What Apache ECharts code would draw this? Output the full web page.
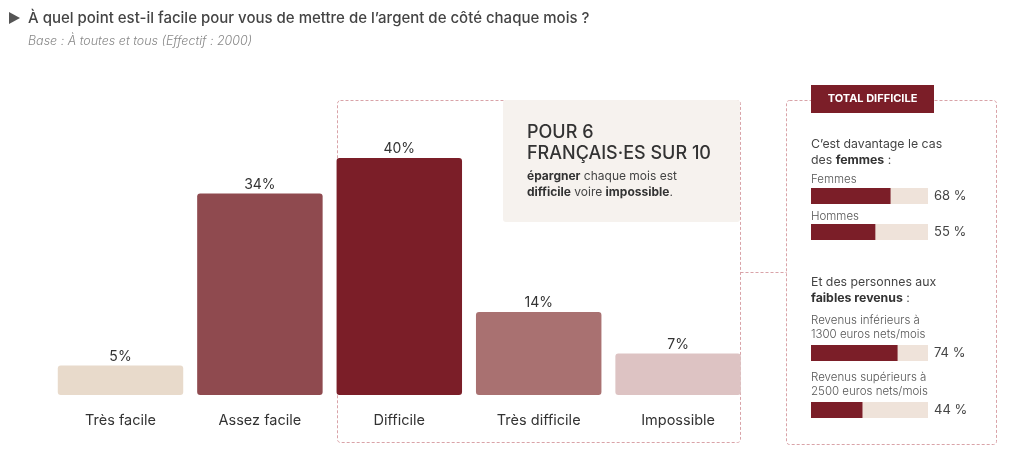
<!DOCTYPE html>
<html>
<head>
<meta charset="utf-8">
<script src="https://cdn.jsdelivr.net/npm/echarts@6/dist/echarts.min.js"></script>
<style>html,body{margin:0;padding:0;background:#fff;}#c{width:1024px;height:471px;}</style>
</head>
<body>
<div id="c"></div>
<script>
var categories = ['Très facile', 'Assez facile', 'Difficile', 'Très difficile', 'Impossible'];
var values = [5, 34, 40, 14, 7];
var barColors = ['#e8dacb', '#8f4a4f', '#7b1e28', '#a97171', '#ddc3c3'];

var groupLabels = ['Femmes', 'Hommes', 'Revenus inférieurs à\n1300 euros nets/mois', 'Revenus supérieurs à\n2500 euros nets/mois'];
var groupValues = [68, 55, 74, 44];

var FONT = 'Inter, "Noto Sans", sans-serif';
var chart = echarts.init(document.getElementById('c'), null, {renderer: 'canvas'});

// mini bar layout (positions only)
var miniTops = [188, 224, 345, 402];
var miniLabelY = [180, 217, 321, 378];
var miniLeft = 811, miniWidth = 117, miniH = 16;

var grids = [{left: 50.8, width: 697, top: 158, height: 237}];
var xAxes = [{type: 'category', gridIndex: 0, data: categories,
  axisLine: {show: false}, axisTick: {show: false},
  axisLabel: {color: '#333', fontSize: 14.5, fontFamily: FONT, margin: 18}}];
var yAxes = [{type: 'value', gridIndex: 0, min: 0, max: 40, show: false, splitLine: {show: false}}];
var series = [{
  type: 'bar', xAxisIndex: 0, yAxisIndex: 0, barCategoryGap: '10%',
  data: values.map(function (v, i) { return {value: v, itemStyle: {color: barColors[i]}}; }),
  itemStyle: {borderRadius: 3},
  label: {show: true, position: 'top', distance: 2, formatter: '{c}%', color: '#333', fontSize: 14, fontFamily: FONT}
}];

groupValues.forEach(function (v, i) {
  var gi = i + 1;
  grids.push({left: miniLeft, width: miniWidth, top: miniTops[i], height: miniH});
  xAxes.push({type: 'value', gridIndex: gi, min: 0, max: 100, show: false});
  yAxes.push({type: 'category', gridIndex: gi, data: [groupLabels[i]], show: false});
  series.push({
    type: 'bar', xAxisIndex: gi, yAxisIndex: gi, barWidth: miniH, silent: true,
    data: [100], itemStyle: {color: '#efe3da'},
    label: {show: true, position: 'right', distance: 6, color: '#444', fontSize: 13, fontFamily: FONT,
      formatter: function () { return groupValues[i] + ' %'; }}
  });
  series.push({
    type: 'bar', xAxisIndex: gi, yAxisIndex: gi, barWidth: miniH, barGap: '-100%', silent: true,
    data: [v], itemStyle: {color: '#7b1e28'}
  });
});

var dash = {stroke: '#d9a3a8', lineWidth: 1, lineDash: [3, 2], fill: null};
var graphic = [
  {type: 'polygon', shape: {points: [[9, 12], [20, 18], [9, 24]]}, style: {fill: '#555'}},
  {type: 'text', style: {x: 28, y: 18, text: 'À quel point est-il facile pour vous de mettre de l’argent de côté chaque mois ?',
    font: '500 15px ' + FONT, fill: '#444', verticalAlign: 'middle'}},
  {type: 'text', style: {x: 28, y: 41, text: 'Base : À toutes et tous (Effectif : 2000)',
    font: 'italic 300 12.5px ' + FONT, fill: '#888', verticalAlign: 'middle'}},
  {type: 'rect', z: -1, shape: {x: 337.5, y: 100.5, width: 403, height: 342, r: 3}, style: dash},
  {type: 'rect', z: -1, shape: {x: 786.5, y: 100.5, width: 210, height: 344, r: 3}, style: dash},
  {type: 'line', z: -1, shape: {x1: 740.5, y1: 272.5, x2: 786.5, y2: 272.5}, style: {stroke: '#d9a3a8', lineWidth: 1, lineDash: [3, 2]}},
  {type: 'rect', shape: {x: 503, y: 100, width: 237, height: 122, r: 3}, style: {fill: '#f6f2ee'}},
  {type: 'text', style: {x: 527, y: 122, text: 'POUR 6\nFRANÇAIS·ES SUR 10',
    font: '500 18px ' + FONT, fill: '#333', lineHeight: 21, verticalAlign: 'top'}},
  {type: 'text', style: {x: 527, y: 168, text: '{b|épargner} chaque mois est\n{b|difficile} voire {b|impossible}.',
    fill: '#444', font: '12px ' + FONT, lineHeight: 16, verticalAlign: 'top',
    rich: {b: {fontWeight: 'bold', fontSize: 12, fontFamily: FONT, fill: '#333', lineHeight: 16}}}},
  {type: 'rect', shape: {x: 811, y: 85, width: 123, height: 28}, style: {fill: '#7b1e28'}},
  {type: 'text', style: {x: 872.5, y: 99, text: 'TOTAL DIFFICILE', font: 'bold 11px ' + FONT, fill: '#fff',
    align: 'center', verticalAlign: 'middle'}},
  {type: 'text', style: {x: 811, y: 136, text: 'C’est davantage le cas\ndes {b|femmes} :',
    font: '12.3px ' + FONT, fill: '#444', lineHeight: 16, verticalAlign: 'top',
    rich: {b: {fontWeight: 'bold', fontSize: 12.3, fontFamily: FONT, fill: '#333', lineHeight: 16}}}},
  {type: 'text', style: {x: 811, y: 274, text: 'Et des personnes aux\n{b|faibles revenus} :',
    font: '12.3px ' + FONT, fill: '#444', lineHeight: 16, verticalAlign: 'top',
    rich: {b: {fontWeight: 'bold', fontSize: 12.3, fontFamily: FONT, fill: '#333', lineHeight: 16}}}}
];
groupLabels.forEach(function (t, i) {
  graphic.push({type: 'text', style: {x: 811, y: miniLabelY[i] - 7, text: t, font: '300 11.5px ' + FONT,
    fill: '#555', lineHeight: 14, verticalAlign: 'top'}});
});

chart.setOption({
  animation: false,
  grid: grids, xAxis: xAxes, yAxis: yAxes, series: series, graphic: graphic
});
</script>
</body>
</html>
